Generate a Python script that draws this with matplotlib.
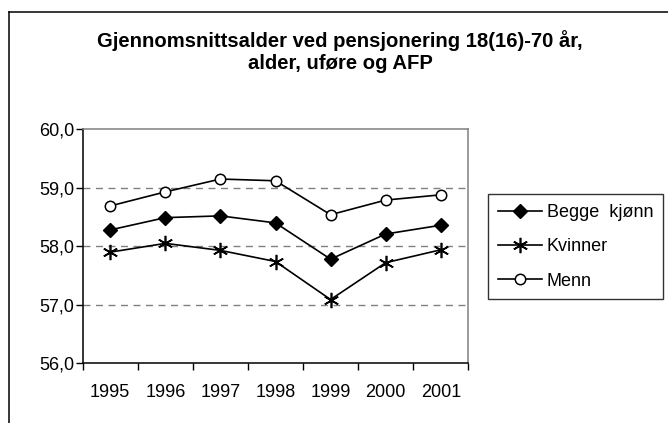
import matplotlib
matplotlib.use("Agg")
import matplotlib.pyplot as plt
from matplotlib.lines import Line2D
import numpy as np

plt.rcParams['font.family'] = ['Liberation Sans', 'DejaVu Sans']

# data
years = ['1995', '1996', '1997', '1998', '1999', '2000', '2001']
begge = [58.28, 58.49, 58.52, 58.40, 57.78, 58.21, 58.36]
kvinner = [57.90, 58.05, 57.93, 57.74, 57.09, 57.72, 57.94]
menn = [58.69, 58.93, 59.15, 59.12, 58.54, 58.79, 58.88]
yticks = [56.0, 57.0, 58.0, 59.0, 60.0]
ytick_labels = ['56,0', '57,0', '58,0', '59,0', '60,0']

W, H = 668, 423
fig = plt.figure(figsize=(W / 100, H / 100), dpi=100)

# outer frame (cut off at right and bottom)
fig.add_artist(Line2D([9 / W, 9 / W], [0, 1 - 12.3 / H], color='black', lw=1.1,
                      transform=fig.transFigure))
fig.add_artist(Line2D([9 / W, 1], [1 - 12.3 / H, 1 - 12.3 / H], color='black', lw=1.1,
                      transform=fig.transFigure))
# descender of "Figur" caption above
fig.text(13 / W, 1 + 10 / H, 'g', fontsize=13, va='baseline', ha='left')

fig.text(340 / W, 1 - 51.5 / H,
         'Gjennomsnittsalder ved pensjonering 18(16)-70 år,\nalder, uføre og AFP',
         ha='center', va='center', fontsize=14.6, fontweight='bold', linespacing=1.2)

ax = fig.add_axes([82.7 / W, 59.7 / H, (468.3 - 82.7) / W, (363.3 - 129.3) / H])
x = np.arange(len(years))

for v in [57.0, 58.0, 59.0]:
    ax.axhline(v, color='#808080', lw=1.0, ls=(0, (5, 4)), zorder=1)

ax.plot(x, begge, color='black', lw=1.2, marker='D', ms=7, mfc='black', mec='black',
        label='Begge  kjønn', zorder=3)
ax.plot(x, kvinner, color='black', lw=1.2, marker=(6, 2, 0), ms=11, mew=1.2,
        label='Kvinner', zorder=3)
ax.plot(x, menn, color='black', lw=1.2, marker='o', ms=7.5, mfc='white', mec='black',
        mew=1.1, label='Menn', zorder=3)

ax.set_xlim(-0.5, len(years) - 0.5)
ax.set_ylim(56, 60)
ax.set_yticks(yticks)
ax.set_yticklabels(ytick_labels, fontsize=13)
ax.set_xticks(x)
ax.set_xticklabels(years, fontsize=13)
ax.set_xticks(np.arange(len(years) + 1) - 0.5, minor=True)
ax.tick_params(axis='x', which='major', length=0, pad=15)
ax.tick_params(axis='x', which='minor', length=5, width=1, direction='out')
ax.tick_params(axis='y', which='major', length=5, width=1, direction='out', pad=1)

for s in ['left', 'bottom']:
    ax.spines[s].set_color('black')
    ax.spines[s].set_linewidth(1.1)
for s in ['top', 'right']:
    ax.spines[s].set_color('#808080')
    ax.spines[s].set_linewidth(1.1)

leg = ax.legend(loc='upper left', bbox_to_anchor=(488.3 / W, 1 - 194.3 / H),
                bbox_transform=fig.transFigure, fontsize=13, frameon=True,
                fancybox=False, edgecolor='black', handlelength=2.45,
                handletextpad=0.25, labelspacing=0.95, borderpad=0.55,
                borderaxespad=0)
leg.get_frame().set_linewidth(1.0)

fig.savefig('out.png', dpi=100)
